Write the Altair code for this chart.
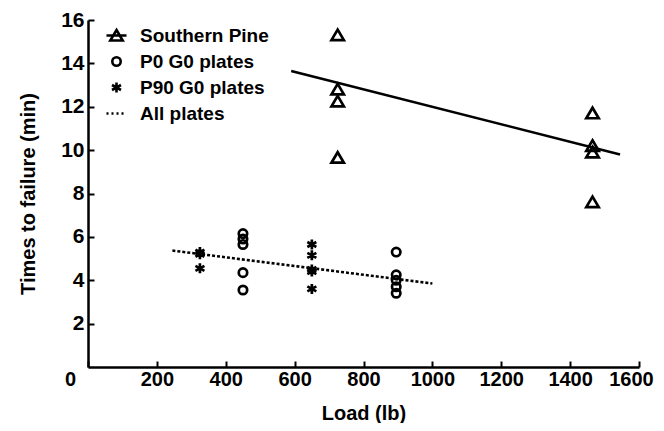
import altair as alt
import pandas as pd

# ---- data ----
series = ["Southern Pine", "P0 G0 plates", "P90 G0 plates", "All plates"]

sp_load = [725, 725, 725, 725, 1465, 1465, 1465, 1465]
sp_time = [15.3, 12.8, 12.25, 9.65, 11.7, 10.2, 9.9, 7.6]

p0_load = [450, 450, 450, 450, 450, 895, 895, 895, 895, 895]
p0_time = [6.15, 5.9, 5.65, 4.35, 3.55, 5.3, 4.25, 4.0, 3.7, 3.4]

p90_load = [325, 325, 325, 650, 650, 650, 650, 650]
p90_time = [5.3, 5.2, 4.55, 5.65, 5.15, 4.5, 4.4, 3.6]

fit_sp_load = [590, 1545]
fit_sp_time = [13.65, 9.8]
fit_all_load = [245, 1000]
fit_all_time = [5.37, 3.85]

x_ticks = [0, 200, 400, 600, 800, 1000, 1200, 1400, 1600]
y_ticks = [2, 4, 6, 8, 10, 12, 14, 16]

# ---- tables ----
pts = pd.DataFrame({
    "load": sp_load + p0_load + p90_load,
    "time": sp_time + p0_time + p90_time,
    "series": [series[0]] * len(sp_load) + [series[1]] * len(p0_load) + [series[2]] * len(p90_load),
})
fit_sp = pd.DataFrame({"load": fit_sp_load, "time": fit_sp_time, "series": series[0]})
fit_all = pd.DataFrame({"load": fit_all_load, "time": fit_all_time, "series": series[3]})

TRI = "M0,-0.55L0.62,0.5L-0.62,0.5Z"
TRI_LINE = "M-1,0L1,0M0,-0.55L0.62,0.5L-0.62,0.5Z"
CIRC = "M0.42,0A0.42,0.42,0,1,1,-0.42,0A0.42,0.42,0,1,1,0.42,0Z"
AST = "M0,-0.5L0,0.5M-0.45,-0.25L0.45,0.25M-0.45,0.25L0.45,-0.25"
DOTS = "M-1,0L-0.8,0M-0.5,0L-0.3,0M0,0L0.2,0M0.5,0L0.7,0"

FONT = "Liberation Sans"

x = alt.X("load:Q", title="Load (lb)",
          scale=alt.Scale(domain=[0, 1600], nice=False, zero=True),
          axis=alt.Axis(values=x_ticks, format="d", labelOverlap=False, labelFlush=False,
                        labelPadding=8, titlePadding=14, labelFontSize=20,
                        labelOffset={"condition": [
                            {"test": "datum.value == 0", "value": -18},
                            {"test": "datum.value == 1600", "value": -8},
                        ], "value": 0}))
y = alt.Y("time:Q", title="Times to failure (min)",
          scale=alt.Scale(domain=[0, 16], nice=False, zero=True),
          axis=alt.Axis(values=y_ticks, labelPadding=10, titlePadding=22, labelOverlap=False,
                        labelFlush=False))

legend = alt.Legend(
    title=None, orient="none", legendX=17, legendY=4,
    labelFont=FONT, labelFontSize=19, labelFontWeight="bold", labelColor="black",
    symbolSize=400, symbolStrokeWidth=2.6, symbolStrokeColor="black",
    symbolFillColor="transparent", rowPadding=4, labelOffset=12, padding=0,
)

points = alt.Chart(pts).mark_point(filled=False, color="black", strokeWidth=2.7, size=400, opacity=1).encode(
    x=x, y=y,
    shape=alt.Shape("series:N", scale=alt.Scale(domain=series, range=[TRI, CIRC, AST, DOTS]), legend=None),
)

legend_layer = alt.Chart(pts).transform_filter("false").mark_point(
    filled=False, color="black", strokeWidth=2.6, size=400, opacity=1).encode(
    x=x, y=y,
    shape=alt.Shape("series:N", scale=alt.Scale(domain=series, range=[TRI_LINE, CIRC, AST, DOTS]), legend=legend),
)

line_sp = alt.Chart(fit_sp).mark_line(color="black", strokeWidth=2.6).encode(x=x, y=y)
line_all = alt.Chart(fit_all).mark_line(color="black", strokeWidth=2.6, strokeDash=[3, 2]).encode(x=x, y=y)

chart = alt.layer(line_sp, line_all, points, legend_layer).resolve_scale(shape="independent").properties(
    width=551, height=347,
    autosize=alt.AutoSizeParams(type="none"),
    padding={"left": 80, "top": 12, "right": 17, "bottom": 56},
    background="white",
).configure_view(stroke=None).configure_axis(
    grid=False, domainColor="black", domainWidth=2.5, tickColor="black", tickWidth=2,
    tickSize=alt.ExprRef(expr="-6"),
    labelFont=FONT, labelFontSize=21, labelFontWeight="bold", labelColor="black",
    titleFont=FONT, titleFontSize=20, titleFontWeight="bold", titleColor="black",
)

chart.save("out.html", embed_options={"renderer": "svg", "actions": False})
